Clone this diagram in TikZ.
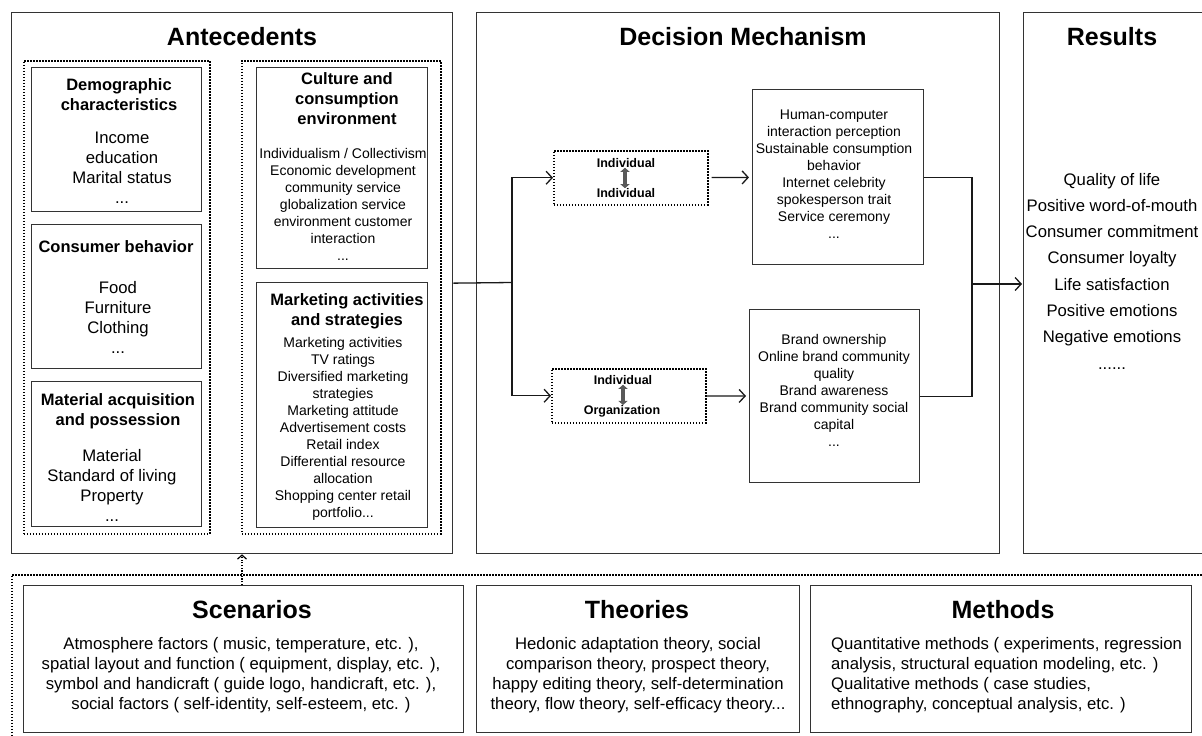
\documentclass[tikz,border=0pt]{standalone}
\usepackage{fontspec}
\setmainfont{Liberation Sans}
\usetikzlibrary{positioning,arrows.meta}
\newcommand{\fsz}[2]{\fontsize{#1}{#2}\selectfont}

\begin{document}
\begin{tikzpicture}[x=1pt,y=-1pt,
  box/.style={draw=black!80, line width=1.3pt, anchor=north west, inner sep=0pt},
  dotbox/.style={box, draw=black, line width=1.5pt, dash pattern=on 1.5pt off 1.5pt},
  head/.style={font=\bfseries\fsz{25}{29}, inner sep=0pt},
  subhead/.style={font=\bfseries\fsz{16.5}{20}, align=center, inner sep=0pt},
  body/.style={font=\fsz{16.7}{20}, align=center, inner sep=0pt},
  small/.style={font=\fsz{14}{17}, align=center, inner sep=0pt},
  pair/.style={font=\bfseries\fsz{12.5}{14}, inner sep=0pt},
  conn/.style={line width=1.3pt, draw=black!90},
  arr/.style={conn, -{Straight Barb[length=6pt,width=13pt]}},
  dotarr/.style={line width=1.2pt, dash pattern=on 1.2pt off 1.5pt, -{Straight Barb[length=4pt,width=9pt]}},
  dbl/.style={line width=4.5pt, draw=black!65, {Triangle[width=9pt,length=4pt]}-{Triangle[width=9pt,length=4pt]}}
]
\useasboundingbox (0,0) rectangle (1202,736);
\clip (0,0) rectangle (1202,736);

% antecedents
\node[box, minimum width=441, minimum height=541] (ant) at (11,12) {};
\node[head] (antT) at (242,37) {Antecedents};
\node[dotbox, minimum width=186, minimum height=473] (leftgrp) at (23,60) {};
\node[dotbox, minimum width=199, minimum height=473] (rightgrp) at (241,60) {};

\node[box, minimum width=170, minimum height=144] (demo) at (31,67) {};
\node[subhead] (demoT) at (119,94.5) {Demographic\\characteristics};
\node[body] (demoB) at (122,168) {Income\\education\\Marital status\\...};

\node[box, minimum width=170, minimum height=144] (cons) at (31,224) {};
\node[subhead] (consT) at (116,247) {Consumer behavior};
\node[body] (consB) at (118,317) {Food\\Furniture\\Clothing\\...};

\node[box, minimum width=170, minimum height=145] (mat) at (31,381) {};
\node[subhead] (matT) at (118,411) {Material acquisition\\and possession};
\node[body] (matB) at (112,485) {Material\\Standard of living\\Property\\...};

\node[box, minimum width=171, minimum height=201] (cult) at (256,67) {};
\node[subhead] (cultT) at (347,99) {Culture and\\consumption\\environment};
\node[small] (cultB) at (343,204) {Individualism / Collectivism\\Economic development\\community service\\globalization service\\environment customer\\interaction\\...};

\node[box, minimum width=171, minimum height=245] (mkt) at (256,282) {};
\node[subhead] (mktT) at (347,311) {Marketing activities\\and strategies};
\node[small] (mktB) at (343,428.5) {Marketing activities\\TV ratings\\Diversified marketing\\strategies\\Marketing attitude\\Advertisement costs\\Retail index\\Differential resource\\allocation\\Shopping center retail\\portfolio...};

% decision mechanism
\node[box, minimum width=523, minimum height=541] (dec) at (476,12) {};
\node[head] (decT) at (743,37) {Decision Mechanism};

\node[dotbox, minimum width=154, minimum height=54] (pairA) at (553,150) {};
\node[pair] (pairAtop) at (626,163) {Individual};
\node[pair] (pairAbot) at (626,193) {Individual};
\draw[dbl] (pairAtop.south -| 625,0) -- (pairAbot.north -| 625,0);

\node[dotbox, minimum width=154, minimum height=54] (pairB) at (551,368) {};
\node[pair] (pairBtop) at (623,380) {Individual};
\node[pair] (pairBbot) at (622,411) {Organization};
\draw[dbl] (pairBtop.south -| 623,0) -- (pairBbot.north -| 623,0);

\node[box, minimum width=171, minimum height=175] (mechA) at (752,89) {};
\node[small] (mechAB) at (834,174) {Human-computer\\interaction perception\\Sustainable consumption\\behavior\\Internet celebrity\\spokesperson trait\\Service ceremony\\...};

\node[box, minimum width=170, minimum height=173] (mechB) at (749,309) {};
\node[small] (mechBB) at (834,390) {Brand ownership\\Online brand community\\quality\\Brand awareness\\Brand community social\\capital\\...};

% results
\node[box, minimum width=220, minimum height=541] (res) at (1023,12) {};
\node[head] (resT) at (1112,37) {Results};
\node[body, font=\fsz{16.7}{26.3}] (resB) at (1112,271) {Quality of life\\Positive word-of-mouth\\Consumer commitment\\Consumer loyalty\\Life satisfaction\\Positive emotions\\Negative emotions\\......};

% connectors
\coordinate (split) at (512,282.5);
\coordinate (join) at (972,284);
\draw[conn] (ant.east) -- (split);
\draw[arr] (split) |- (pairA.west);
\draw[arr] (split) |- (pairB.west);
\draw[arr, shorten <=3pt, shorten >=3pt] (pairA) -- (mechA);
\draw[arr, shorten >=3pt] (pairB) -- (mechB);
\draw[conn] (mechA.east) -| (join);
\draw[conn] (mechB.east) -| (join);
\draw[arr, shorten >=1pt] (join) -- (join -| res.west);

% context
\node[dotbox, minimum width=1230, minimum height=200] (ctx) at (11,574) {};

\node[box, minimum width=440, minimum height=147] (scen) at (23,585) {};
\node[head] (scenT) at (252,610) {Scenarios};
\node[body] (scenB) at (241,675) {Atmosphere factors ( music, temperature, etc. ),\\spatial layout and function ( equipment, display, etc. ),\\symbol and handicraft ( guide logo, handicraft, etc. ),\\social factors ( self-identity, self-esteem, etc. )};

\node[box, minimum width=323, minimum height=147] (theo) at (476,585) {};
\node[head] (theoT) at (637,610) {Theories};
\node[body] (theoB) at (638,675) {Hedonic adaptation theory, social\\comparison theory, prospect theory,\\happy editing theory, self-determination\\theory, flow theory, self-efficacy theory...};

\node[box, minimum width=381, minimum height=147] (meth) at (810,585) {};
\node[head] (methT) at (1003,610) {Methods};
\node[body, align=left, anchor=west] (methB) at (831,675) {Quantitative methods ( experiments, regression\\analysis, structural equation modeling, etc. )\\Qualitative methods ( case studies,\\ethnography, conceptual analysis, etc. )};

\coordinate (scenUp) at (242,585);
\draw[dotarr] (scenUp) -- (scenUp |- ant.south);
\end{tikzpicture}
\end{document}
